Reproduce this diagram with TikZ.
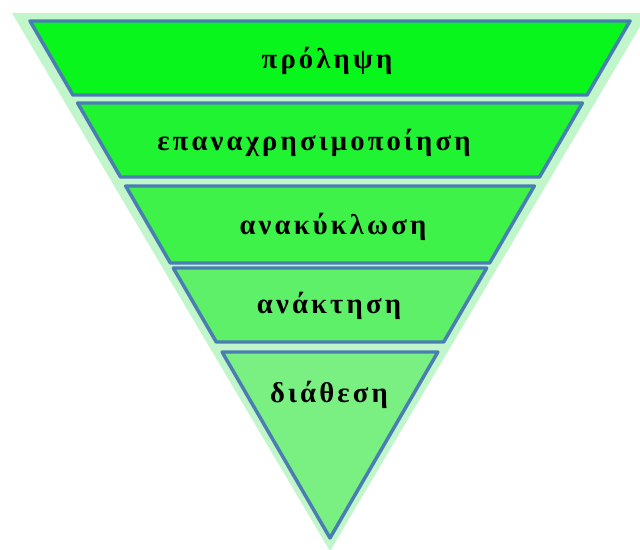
\documentclass[tikz,border=0pt]{standalone}
\usepackage{fontspec}
\setmainfont{Liberation Serif}
\newfontfamily\lblfont[LetterSpace=11]{Liberation Serif}
\definecolor{paleG}{RGB}{192,246,202}
\definecolor{edgeB}{RGB}{74,126,178}
\definecolor{gA}{RGB}{8,246,28}
\definecolor{gB}{RGB}{32,244,50}
\definecolor{gC}{RGB}{62,242,74}
\definecolor{gD}{RGB}{94,240,104}
\definecolor{gE}{RGB}{122,240,130}
\tikzset{
  band/.style={draw=edgeB, line width=2.6pt, line join=round},
  lbl/.style={font=\lblfont\bfseries\fontsize{21.5}{24}\selectfont, text=black, inner sep=0pt}
}
\begin{document}
\begin{tikzpicture}[x=0.75pt,y=-0.75pt]
\useasboundingbox (0,0) rectangle (640,550);
\fill[white] (0,0) rectangle (640,550);
\begin{scope}
\clip (0,0) rectangle (640,550);
\fill[paleG] (12,13) -- (648,13) -- (330,551) -- cycle;
\end{scope}
% bands
\path[band, fill=gA] (30,21) -- (630,21) -- (587.1,95) -- (72.9,95) -- cycle;
\path[band, fill=gB] (77.6,103) -- (582.4,103) -- (539.5,177) -- (120.5,177) -- cycle;
\path[band, fill=gC] (125.7,186) -- (534.3,186) -- (489.6,263) -- (170.4,263) -- cycle;
\path[band, fill=gD] (173.3,268) -- (486.7,268) -- (443.7,342) -- (216.3,342) -- cycle;
\path[band, fill=gE] (222.1,352) -- (437.9,352) -- (330,538) -- cycle;
% labels
\node[lbl] (t1) at (327,61) {πρόληψη};
\node[lbl] (t2) at (314,143) {επαναχρησιμοποίηση};
\node[lbl] (t3) at (333,227) {ανακύκλωση};
\node[lbl] (t4) at (329,306) {ανάκτηση};
\node[lbl] (t5) at (329,395) {διάθεση};
\end{tikzpicture}
\end{document}
